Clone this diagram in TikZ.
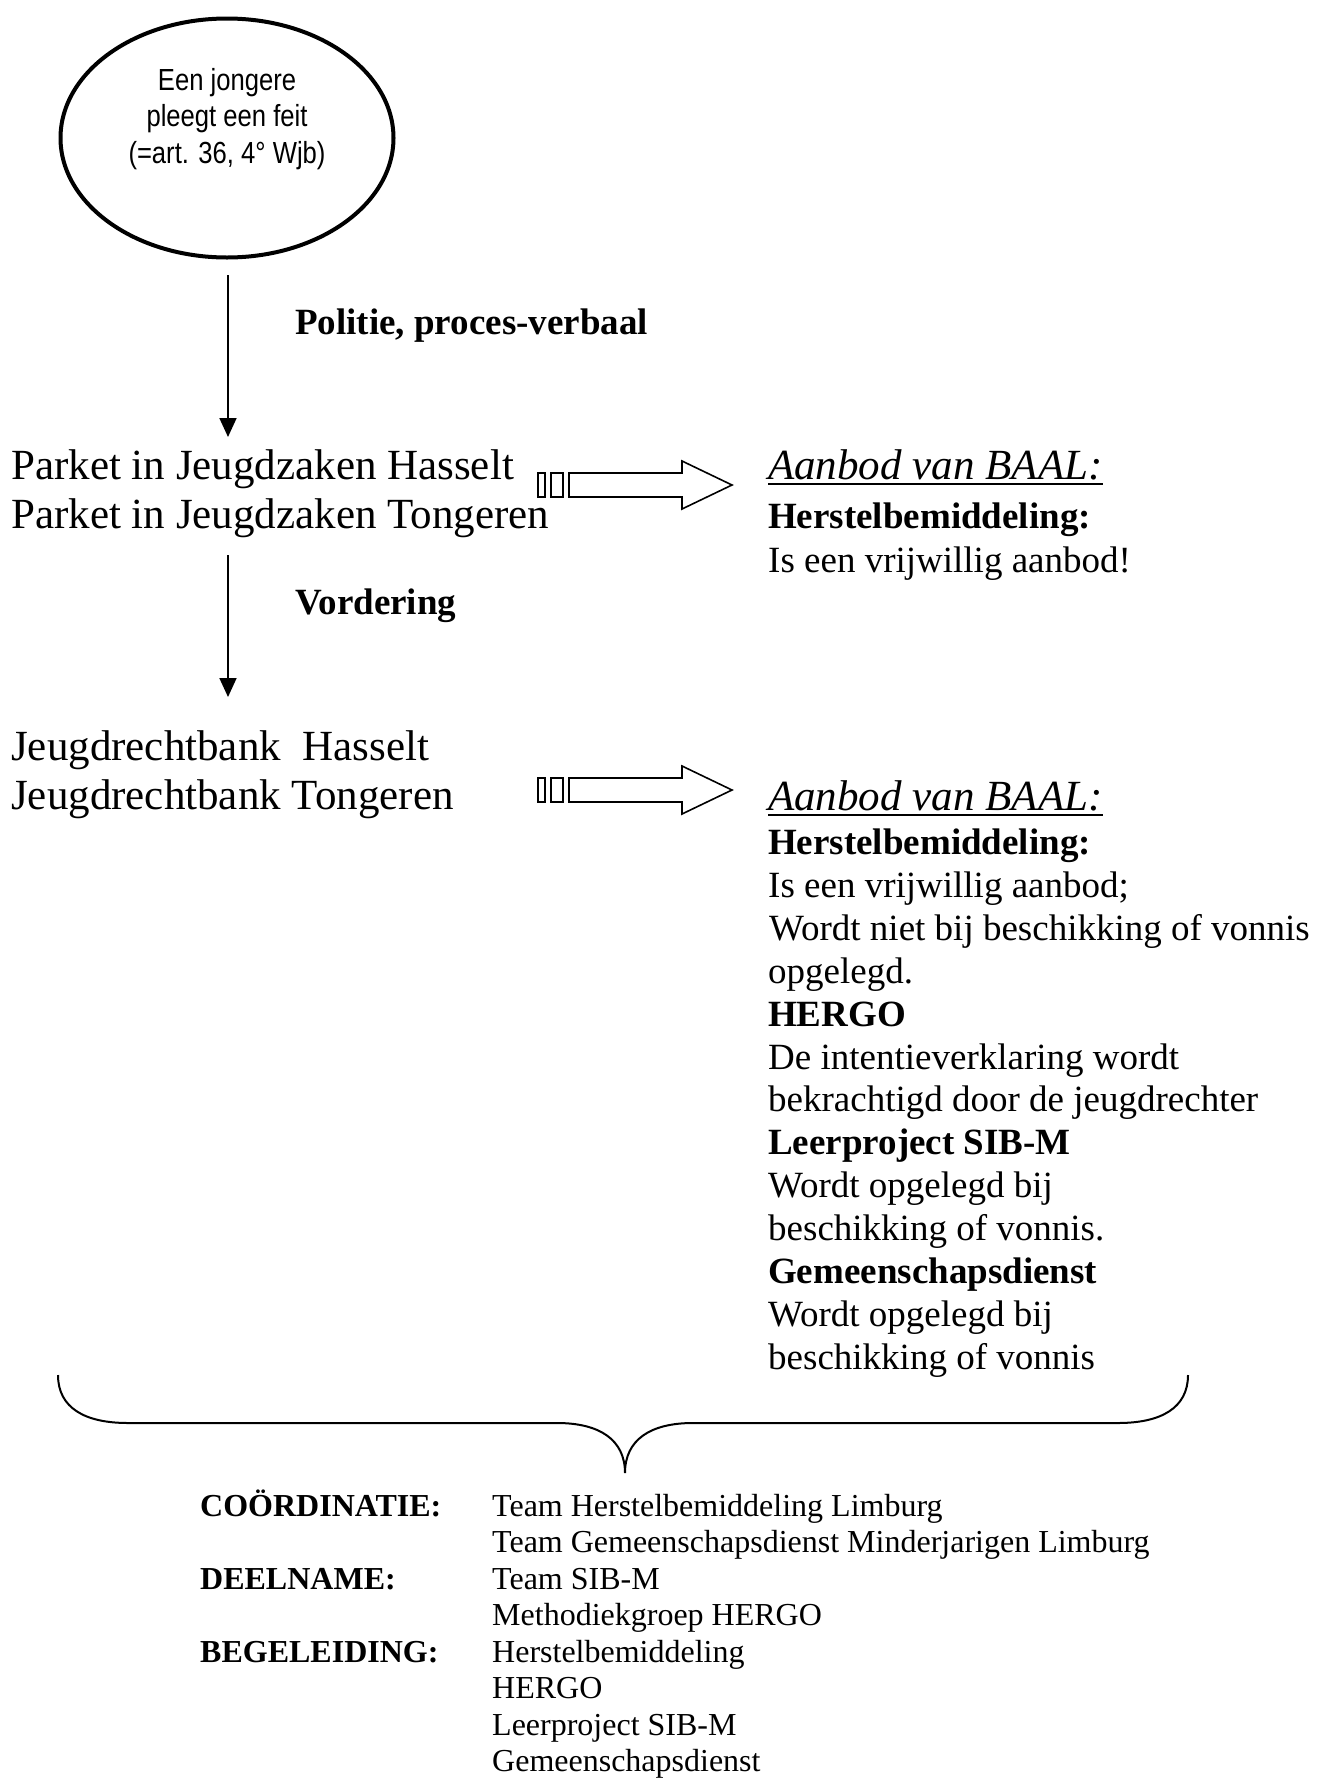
\documentclass[tikz,border=0pt]{standalone}
\usepackage{fontspec}
\setmainfont{Liberation Serif}
\newfontfamily\narrowsans[FakeStretch=0.84]{Liberation Sans}
\usetikzlibrary{arrows.meta,shapes.geometric}
\begin{document}
\begin{tikzpicture}[x=1pt,y=-1pt,
  txt/.style={inner sep=0pt, anchor=base west},
  big/.style={txt, font=\fontsize{43}{48}\selectfont},
  bigit/.style={txt, font=\fontsize{43}{48}\selectfont\itshape},
  mid/.style={txt, font=\fontsize{37}{43}\selectfont},
  midb/.style={txt, font=\fontsize{37}{43}\selectfont\bfseries},
  sml/.style={txt, font=\fontsize{32}{36}\selectfont},
  smlb/.style={txt, font=\fontsize{32}{36}\selectfont\bfseries},
  ell/.style={inner sep=0pt, anchor=base, font=\narrowsans\fontsize{30.5}{36}\selectfont},
  flow/.style={line width=1.8pt, -{Triangle[length=19pt,width=17pt]}},
  blockarrow/.style={line width=1.6pt, fill=white, line join=miter},
  ulin/.style={line width=2pt},
  brace/.style={line width=2pt},
  pics/striped/.style={code={
    \draw[blockarrow] (538,-12) rectangle (545,12);
    \draw[blockarrow] (551,-12) rectangle (563,12);
    \draw[blockarrow] (569,-12) -- (682,-12) -- (682,-24) -- (732,0) -- (682,24) -- (682,12) -- (569,12) -- cycle;
  }}
]
\useasboundingbox (0,0) rectangle (1333,1778);

% ellipse
\node[ellipse, draw, line width=4pt, minimum width=333pt, minimum height=239pt, inner sep=0pt] (e) at (227,138) {};
\node[ell] (e1) at (227,90) {Een jongere};
\node[ell] (e2) at (227,126.5) {pleegt een feit};
\node[ell] (e3) at (227,163) {(=art. 36, 4° Wjb)};

% vertical arrows
\coordinate (a1s) at (228,275);
\coordinate (a1e) at (228,437);
\draw[flow] (a1s) -- (a1e);
\node[midb] (pol) at (295,334) {Politie, proces-verbaal};

\coordinate (a2s) at (228,555);
\coordinate (a2e) at (228,697);
\draw[flow] (a2s) -- (a2e);
\node[midb] (vord) at (295,614) {Vordering};

% left labels
\node[big] (pk1) at (11,479) {Parket in Jeugdzaken Hasselt};
\node[big] (pk2) at (11,528) {Parket in Jeugdzaken Tongeren};
\node[big] (jr1) at (11,760) {Jeugdrechtbank\hspace{0.25em} Hasselt};
\node[big] (jr2) at (11,809) {Jeugdrechtbank Tongeren};

% block arrows
\pic (ba1) at (0,485) {striped};
\pic (ba2) at (0,790) {striped};

% right block 1
\node[bigit] (ab1) at (768,479) {Aanbod van BAAL:};
\draw[ulin] ([yshift=-5pt]ab1.base west) -- ([yshift=-5pt]ab1.base east);
\node[midb] (h1) at (768,528) {Herstelbemiddeling:};
\node[mid] (v1) at (768,572) {Is een vrijwillig aanbod!};

% right block 2
\node[bigit] (ab2) at (768,810) {Aanbod van BAAL:};
\draw[ulin] ([yshift=-5pt]ab2.base west) -- ([yshift=-5pt]ab2.base east);
\node[midb] (r1) at (768,854) {Herstelbemiddeling:};
\node[mid] (r2) at (768,897) {Is een vrijwillig aanbod;};
\node[mid] (r3) at (769,940) {Wordt niet bij beschikking of vonnis};
\node[mid] (r4) at (768,983) {opgelegd.};
\node[midb] (r5) at (768,1026) {HERGO};
\node[mid] (r6) at (768,1069) {De intentieverklaring wordt};
\node[mid] (r7) at (768,1111) {bekrachtigd door de jeugdrechter};
\node[midb] (r8) at (768,1154) {Leerproject SIB-M};
\node[mid] (r9) at (768,1197) {Wordt opgelegd bij};
\node[mid] (r10) at (768,1240) {beschikking of vonnis.};
\node[midb] (r11) at (768,1283) {Gemeenschapsdienst};
\node[mid] (r12) at (768,1326) {Wordt opgelegd bij};
\node[mid] (r13) at (768,1369) {beschikking of vonnis};

% brace
\draw[brace] (58,1375) .. controls (58,1408) and (85,1423) .. (128,1423) -- (557,1423)
  .. controls (600,1423) and (625,1440) .. (625,1473)
  .. controls (625,1440) and (650,1423) .. (693,1423) -- (1118,1423)
  .. controls (1161,1423) and (1188,1408) .. (1188,1375);

% bottom block
\node[smlb] (c1) at (200,1516) {COÖRDINATIE:};
\node[sml] (c2) at (492,1516) {Team Herstelbemiddeling Limburg};
\node[sml] (c3) at (492,1552.5) {Team Gemeenschapsdienst Minderjarigen Limburg};
\node[smlb] (d1) at (200,1589) {DEELNAME:};
\node[sml] (d2) at (492,1589) {Team SIB-M};
\node[sml] (d3) at (492,1625.5) {Methodiekgroep HERGO};
\node[smlb] (b1) at (200,1662) {BEGELEIDING:};
\node[sml] (b2) at (492,1662) {Herstelbemiddeling};
\node[sml] (b3) at (492,1698.5) {HERGO};
\node[sml] (b4) at (492,1735) {Leerproject SIB-M};
\node[sml] (b5) at (492,1771.5) {Gemeenschapsdienst};
\end{tikzpicture}
\end{document}
